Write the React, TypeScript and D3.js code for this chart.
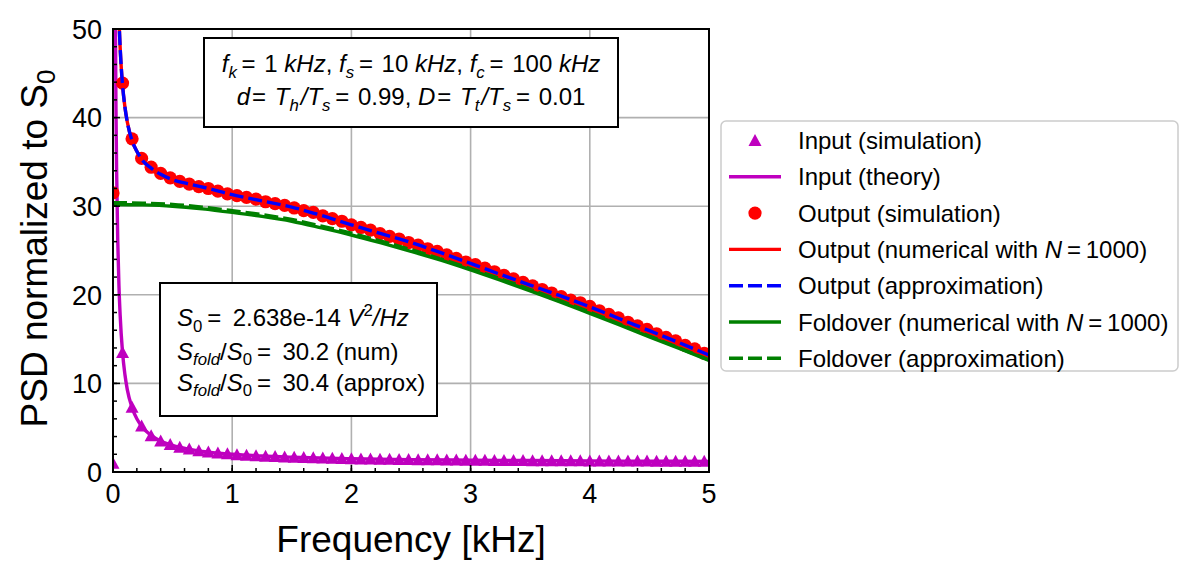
import React from 'react';
import * as d3 from 'd3';

// simulated spectra, sampled every 0.08 kHz
const freqSim = [
  0, 0.08, 0.16, 0.24, 0.32, 0.4, 0.48, 0.56, 0.64, 0.72, 0.8, 0.88, 0.96, 1.04, 1.12, 1.2,
  1.28, 1.36, 1.44, 1.52, 1.6, 1.68, 1.76, 1.84, 1.92, 2.0, 2.08, 2.16, 2.24, 2.32, 2.4, 2.48,
  2.56, 2.64, 2.72, 2.8, 2.88, 2.96, 3.04, 3.12, 3.2, 3.28, 3.36, 3.44, 3.52, 3.6, 3.68, 3.76,
  3.84, 3.92, 4.0, 4.08, 4.16, 4.24, 4.32, 4.4, 4.48, 4.56, 4.64, 4.72, 4.8, 4.88, 4.96,
];
const inputSim = [
  1.0, 13.5, 7.3, 5.2, 4.1, 3.5, 3.1, 2.8, 2.6, 2.4, 2.25, 2.15, 2.05, 1.96, 1.9, 1.83,
  1.78, 1.74, 1.7, 1.66, 1.63, 1.6, 1.57, 1.55, 1.52, 1.5, 1.48, 1.47, 1.45, 1.43, 1.42, 1.4,
  1.39, 1.38, 1.37, 1.36, 1.35, 1.34, 1.33, 1.32, 1.31, 1.31, 1.3, 1.29, 1.28, 1.28, 1.27, 1.27,
  1.26, 1.26, 1.25, 1.25, 1.24, 1.24, 1.23, 1.23, 1.23, 1.22, 1.22, 1.21, 1.21, 1.21, 1.2,
];
const outputSim = [
  31.5, 43.9, 37.6, 35.4, 34.4, 33.7, 33.2, 32.8, 32.5, 32.2, 32.0, 31.7, 31.4, 31.2, 31.0, 30.8,
  30.5, 30.3, 30.1, 29.8, 29.5, 29.3, 28.9, 28.6, 28.3, 27.9, 27.6, 27.3, 26.9, 26.6, 26.3, 25.9,
  25.6, 25.2, 24.9, 24.5, 24.1, 23.7, 23.4, 23.0, 22.6, 22.2, 21.8, 21.4, 21.0, 20.6, 20.2, 19.8,
  19.4, 19.1, 18.7, 18.2, 17.8, 17.4, 16.9, 16.5, 16.1, 15.6, 15.2, 14.8, 14.3, 13.9, 13.4,
];

// theory curves
const freqInTheory = [0.02, 0.025, 0.03, 0.04, 0.05, 0.06, 0.08, 0.1, 0.12, 0.16, 0.2, 0.24, 0.32, 0.4, 0.5, 0.64, 0.8, 1, 1.25, 1.5, 2, 2.5, 3, 3.5, 4, 4.5, 5];
const inputTheory = [51, 41, 34.3, 26, 21, 17.7, 13.5, 11, 9.3, 7.25, 6, 5.17, 4.13, 3.5, 3, 2.56, 2.25, 2, 1.8, 1.67, 1.5, 1.4, 1.33, 1.29, 1.25, 1.22, 1.2];

const freqOutTheory = [0.04, 0.05, 0.06, 0.07, 0.08, 0.1, 0.12, 0.16, 0.2, 0.24, 0.32, 0.4, 0.5, 0.64, 0.8, 1.0, 1.25, 1.5, 1.75, 2, 2.25, 2.5, 2.75, 3, 3.25, 3.5, 3.75, 4, 4.25, 4.5, 4.75, 5];
const outputNumerical = [56.2, 51.2, 47.9, 45.5, 43.7, 41.2, 39.5, 37.4, 36.2, 35.3, 34.3, 33.6, 33.0, 32.5, 32.0, 31.3, 30.6, 29.9, 28.95, 27.9, 26.9, 25.9, 24.75, 23.55, 22.3, 21.1, 19.9, 18.65, 17.3, 15.95, 14.6, 13.2];
const outputApprox = [56.2, 51.2, 47.9, 45.5, 43.7, 41.2, 39.5, 37.4, 36.2, 35.3, 34.3, 33.6, 33.0, 32.5, 32.0, 31.3, 30.6, 29.9, 28.95, 27.9, 26.9, 25.9, 24.75, 23.55, 22.3, 21.1, 19.9, 18.65, 17.3, 15.95, 14.6, 13.2];

const freqFold = [0, 0.25, 0.5, 0.75, 1, 1.25, 1.5, 1.75, 2, 2.25, 2.5, 2.75, 3, 3.25, 3.5, 3.75, 4, 4.25, 4.5, 4.75, 5];
const foldNumerical = [30.2, 30.15, 30.0, 29.7, 29.3, 28.85, 28.3, 27.55, 26.75, 25.85, 24.9, 23.9, 22.8, 21.65, 20.45, 19.2, 17.9, 16.6, 15.25, 13.95, 12.6];
const foldApprox = [30.4, 30.35, 30.2, 29.9, 29.5, 29.05, 28.5, 27.75, 26.95, 26.05, 25.1, 24.05, 22.95, 21.8, 20.6, 19.35, 18.05, 16.7, 15.35, 14.0, 12.65];

const xTicks = [0, 1, 2, 3, 4, 5];
const yTicks = [0, 10, 20, 30, 40, 50];

const W = 1196;
const H = 574;
const margin = { left: 113, right: 709, top: 29, bottom: 472 };
const FONT = '"Liberation Sans", Arial, Helvetica, sans-serif';
const MAGENTA = '#bf00bf';
const RED = '#ff0000';
const BLUE = '#0000ff';
const GREEN = '#008000';
const LW = 3.4;
const DASH = '14 5';

type Seg = { t: string; i?: boolean; sub?: boolean; sup?: boolean };

// poor man's mathtext: italics, sub and superscripts as tspans
function spans(segs: Seg[], size: number) {
  let shift = 0;
  return segs.map((s, k) => {
    const target = s.sub ? size * 0.24 : s.sup ? -size * 0.42 : 0;
    const dy = target - shift;
    shift = target;
    return (
      <tspan key={k} dy={dy} fontStyle={s.i ? 'italic' : 'normal'} fontSize={s.sub || s.sup ? size * 0.7 : size}>
        {s.t}
      </tspan>
    );
  });
}

const box1Line1: Seg[] = [
  { t: 'f', i: true }, { t: 'k', i: true, sub: true }, { t: '\u2009=\u200a 1 ' }, { t: 'kHz', i: true }, { t: ', ' },
  { t: 'f', i: true }, { t: 's', i: true, sub: true }, { t: '\u2009=\u200a 10 ' }, { t: 'kHz', i: true }, { t: ', ' },
  { t: 'f', i: true }, { t: 'c', i: true, sub: true }, { t: '\u2009=\u200a 100 ' }, { t: 'kHz', i: true },
];
const box1Line2: Seg[] = [
  { t: 'd', i: true }, { t: '\u200a=\u200a ' }, { t: 'T', i: true }, { t: 'h', i: true, sub: true }, { t: '\u200a/', i: true },
  { t: 'T', i: true }, { t: 's', i: true, sub: true }, { t: '\u2009=\u200a 0.99, ' },
  { t: 'D', i: true }, { t: '\u200a=\u200a ' }, { t: 'T', i: true }, { t: 't', i: true, sub: true }, { t: '\u200a/', i: true },
  { t: 'T', i: true }, { t: 's', i: true, sub: true }, { t: '\u2009=\u200a 0.01' },
];
const box2Lines: Seg[][] = [
  [{ t: 'S', i: true }, { t: '0', sub: true }, { t: '\u2009=\u2009 2.638e-14 ' }, { t: 'V', i: true }, { t: '2', sup: true }, { t: '/Hz', i: true }],
  [{ t: 'S', i: true }, { t: 'fold', i: true, sub: true }, { t: '/' }, { t: 'S', i: true }, { t: '0', sub: true }, { t: '\u2009=\u2009 30.2 (num)' }],
  [{ t: 'S', i: true }, { t: 'fold', i: true, sub: true }, { t: '/' }, { t: 'S', i: true }, { t: '0', sub: true }, { t: '\u2009=\u2009 30.4 (approx)' }],
];
const box2Baselines = [326, 359.5, 390.7];

type LegendItem = { label: Seg[]; kind: 'tri' | 'dot' | 'line'; color: string; dash?: string };
const legendItems: LegendItem[] = [
  { label: [{ t: 'Input (simulation)' }], kind: 'tri', color: MAGENTA },
  { label: [{ t: 'Input (theory)' }], kind: 'line', color: MAGENTA },
  { label: [{ t: 'Output (simulation)' }], kind: 'dot', color: RED },
  { label: [{ t: 'Output (numerical with ' }, { t: 'N', i: true }, { t: '\u2009=\u20091000)' }], kind: 'line', color: RED },
  { label: [{ t: 'Output (approximation)' }], kind: 'line', color: BLUE, dash: DASH },
  { label: [{ t: 'Foldover (numerical with ' }, { t: 'N', i: true }, { t: '\u2009=\u20091000)' }], kind: 'line', color: GREEN },
  { label: [{ t: 'Foldover (approximation)' }], kind: 'line', color: GREEN, dash: DASH },
];

export default function App() {
  const x = d3.scaleLinear().domain([0, 5]).range([margin.left, margin.right]);
  const y = d3.scaleLinear().domain([0, 50]).range([margin.bottom, margin.top]);

  const line = (xs: number[], ys: number[]) =>
    d3.line<number>().x((_, i) => x(xs[i])).y((d) => y(d)).curve(d3.curveMonotoneX)(ys) || '';

  // matplotlib-style '^' marker: as wide as it is tall
  const tri = 'M0,-6.5L6.5,5.5L-6.5,5.5Z';
  const xMinor = d3.range(0, 5.0001, 0.2);
  const yMinor = d3.range(0, 50.001, 2);

  const legendX = 721;
  const legendY = 121;
  const rowY = (i: number) => 140.5 + i * 36.3;

  return (
    <svg width={W} height={H} style={{ position: 'absolute', left: 0, top: 0, background: '#fff' }} fontFamily={FONT}>
      <defs>
        <clipPath id="plot">
          <rect x={margin.left} y={margin.top} width={margin.right - margin.left} height={margin.bottom - margin.top} />
        </clipPath>
      </defs>
      <rect width={W} height={H} fill="#fff" />

      {/* grid */}
      <g stroke="#b0b0b0" strokeWidth={1.6}>
        {xTicks.map((t) => (
          <line key={'gx' + t} x1={x(t)} x2={x(t)} y1={margin.top} y2={margin.bottom} />
        ))}
        {yTicks.map((t) => (
          <line key={'gy' + t} x1={margin.left} x2={margin.right} y1={y(t)} y2={y(t)} />
        ))}
      </g>

      {/* data */}
      <g clipPath="url(#plot)">
        {freqSim.map((f, i) => (
          <path key={'t' + i} d={tri} transform={`translate(${x(f)},${y(inputSim[i])})`} fill={MAGENTA} />
        ))}
        <path d={line(freqInTheory, inputTheory)} fill="none" stroke={MAGENTA} strokeWidth={LW} />
        {freqSim.map((f, i) => (
          <circle key={'c' + i} cx={x(f)} cy={y(outputSim[i])} r={6.6} fill={RED} />
        ))}
        <path d={line(freqOutTheory, outputNumerical)} fill="none" stroke={RED} strokeWidth={LW} />
        <path d={line(freqOutTheory, outputApprox)} fill="none" stroke={BLUE} strokeWidth={LW} strokeDasharray={DASH} />
        <path d={line(freqFold, foldNumerical)} fill="none" stroke={GREEN} strokeWidth={LW} />
        <path d={line(freqFold, foldApprox)} fill="none" stroke={GREEN} strokeWidth={LW} strokeDasharray={DASH} />
      </g>

      {/* ticks, inward */}
      <g stroke="#000" strokeWidth={1.5}>
        {xMinor.map((t) => (
          <line key={'mx' + t} x1={x(t)} x2={x(t)} y1={margin.bottom} y2={margin.bottom - 4} />
        ))}
        {xTicks.map((t) => (
          <line key={'tx' + t} x1={x(t)} x2={x(t)} y1={margin.bottom} y2={margin.bottom - 7} />
        ))}
        {yMinor.map((t) => (
          <line key={'my' + t} x1={margin.left} x2={margin.left + 4} y1={y(t)} y2={y(t)} />
        ))}
        {yTicks.map((t) => (
          <line key={'ty' + t} x1={margin.left} x2={margin.left + 7} y1={y(t)} y2={y(t)} />
        ))}
      </g>
      <rect x={margin.left} y={margin.top} width={margin.right - margin.left} height={margin.bottom - margin.top}
        fill="none" stroke="#000" strokeWidth={2} />

      {/* tick labels */}
      <g fontSize={27} fill="#000">
        {xTicks.map((t) => (
          <text key={'lx' + t} x={x(t)} y={margin.bottom + 31} textAnchor="middle">{t}</text>
        ))}
        {yTicks.map((t) => (
          <text key={'ly' + t} x={margin.left - 11} y={y(t) + 9.7} textAnchor="end">{t}</text>
        ))}
      </g>

      {/* axis labels */}
      <text x={(margin.left + margin.right) / 2} y={552} textAnchor="middle" fontSize={37}>Frequency [kHz]</text>
      <text transform={`translate(47,${(margin.top + margin.bottom) / 2 - 2}) rotate(-90)`} textAnchor="middle" fontSize={37}>
        PSD normalized to S<tspan fontSize={26} dy={8}>0</tspan>
      </text>

      {/* parameter box */}
      <rect x={204} y={38} width={414} height={89} fill="#fff" stroke="#000" strokeWidth={2} />
      <text x={411} y={72} textAnchor="middle" style={{ whiteSpace: 'pre' }}>{spans(box1Line1, 24)}</text>
      <text x={411} y={105} textAnchor="middle" style={{ whiteSpace: 'pre' }}>{spans(box1Line2, 24)}</text>

      {/* S0 box */}
      <rect x={160} y={283} width={277} height={133} fill="#fff" stroke="#000" strokeWidth={2} />
      {box2Lines.map((segs, i) => (
        <text key={'b2' + i} x={177} y={box2Baselines[i]} style={{ whiteSpace: 'pre' }}>{spans(segs, 24)}</text>
      ))}

      {/* legend */}
      <rect x={legendX} y={legendY} width={457} height={250} rx={5} fill="#fff" fillOpacity={0.8} stroke="#cccccc" strokeWidth={1.5} />
      {legendItems.map((it, i) => {
        const cy = rowY(i);
        return (
          <g key={'lg' + i}>
            {it.kind === 'line' && (
              <line x1={729} x2={781} y1={cy} y2={cy} stroke={it.color} strokeWidth={LW} strokeDasharray={it.dash} />
            )}
            {it.kind === 'dot' && <circle cx={755} cy={cy} r={6.6} fill={it.color} />}
            {it.kind === 'tri' && <path d={tri} transform={`translate(755,${cy})`} fill={it.color} />}
            <text x={798} y={cy + 8.6} style={{ whiteSpace: 'pre' }}>{spans(it.label, 24)}</text>
          </g>
        );
      })}
    </svg>
  );
}
